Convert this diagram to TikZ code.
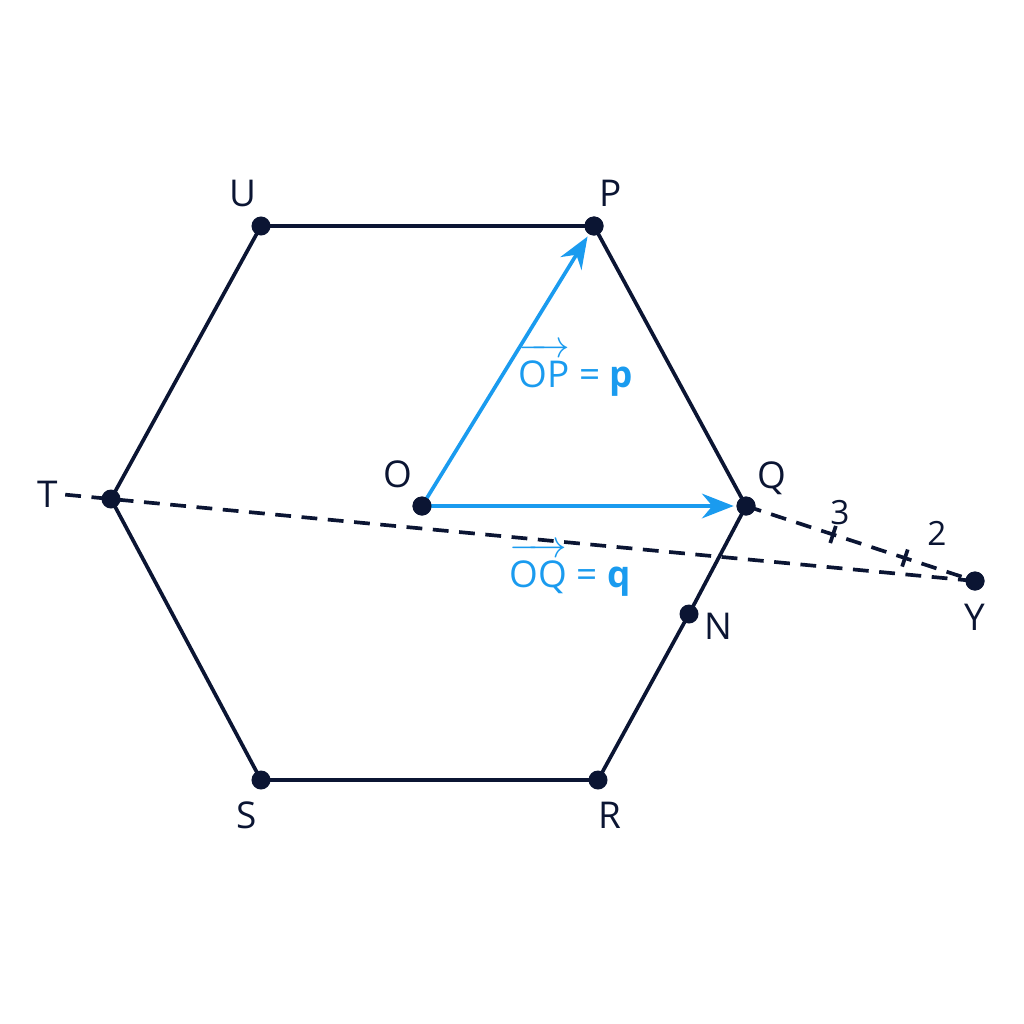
\documentclass[tikz,border=0pt]{standalone}
\usepackage{amsmath}
\usepackage{fontspec}
\setmainfont{Open Sans}
\usepackage{tikz}
\usepackage{xcolor}
\usetikzlibrary{calc, arrows.meta}

\definecolor{ink}{HTML}{0B1533}
\definecolor{vblue}{HTML}{1A9BEF}

\begin{document}
\begin{tikzpicture}[>={Stealth[length=9pt, width=7pt]}, semithick, x=0.01cm, y=-0.01cm,
		dot/.style={circle, fill=ink, inner sep=0pt, minimum size=0.19cm},
		lbl/.style={text=ink, font=\fontsize{10.5}{12}\selectfont},
		edge/.style={draw=ink, line width=1.05pt},
		dline/.style={draw=ink, line width=1.05pt, dash pattern=on 4.5pt off 3pt},
		vec/.style={draw=vblue, line width=1.05pt, ->, shorten >=0.5pt}]
		\useasboundingbox (0,0) rectangle (1024,1024);
		\node [dot] (U) at (261, 226) {};
		\node [dot] (P) at (594, 226) {};
		\node [dot] (Q) at (746, 506) {};
		\node [dot] (R) at (598, 780) {};
		\node [dot] (S) at (261, 780) {};
		\node [dot] (T) at (111, 499) {};
		\node [dot] (O) at (422, 506) {};
		\node [dot] (N) at (689, 614) {};
		\node [dot] (Y) at (975, 581) {};
		\coordinate (T0) at ($(T.center)!-0.053!(Y.center)$);
		% hexagon
		\draw [edge] (U.center) to (P.center);
		\draw [edge] (P.center) to (Q.center);
		\draw [edge] (Q.center) to (N.center);
		\draw [edge] (N.center) to (R.center);
		\draw [edge] (R.center) to (S.center);
		\draw [edge] (S.center) to (T.center);
		\draw [edge] (T.center) to (U.center);
		% dashed lines
		\draw [dline] (T0) to (Y.center);
		\draw [dline] (Q.center) to (Y.center);
		\coordinate (k1) at ($(Q.center)!0.38!(Y.center)$);
		\coordinate (k2) at ($(Q.center)!0.694!(Y.center)$);
		\draw [ink, line width=1.05pt] ($(k1)!0.09cm!90:(Y.center)$) to ($(k1)!0.09cm!-90:(Y.center)$);
		\draw [ink, line width=1.05pt] ($(k2)!0.09cm!90:(Y.center)$) to ($(k2)!0.09cm!-90:(Y.center)$);
		% vectors
		\draw [vec] (O.center) to (P);
		\draw [vec] (O.center) to (Q);
		\node [dot] at (O) {};
		\node [dot] at (P) {};
		\node [dot] at (Q) {};
		\node [dot] at (Y) {};
		% labels
		\node [lbl] (lU) at (243, 193) {U};
		\node [lbl] (lP) at (611, 193) {P};
		\node [lbl] (lQ) at (772, 478) {Q};
		\node [lbl] (lO) at (398, 474) {O};
		\node [lbl] (lT) at (48, 494) {T};
		\node [lbl] (lN) at (718, 626) {N};
		\node [lbl] (lY) at (975, 617) {Y};
		\node [lbl] (lS) at (247, 815) {S};
		\node [lbl] (lR) at (610, 815) {R};
		\node [lbl, font=\fontsize{9.5}{11}\selectfont] (l3) at (840, 513) {3};
		\node [lbl, font=\fontsize{9.5}{11}\selectfont] (l2) at (937, 533) {2};
		\node [lbl, text=vblue] (lp) at (576, 370) {$\overrightarrow{\mbox{\rule{0pt}{8.4pt}OP}}$ = \textbf{p}};
		\node [lbl, text=vblue] (lq) at (570, 570) {$\overrightarrow{\mbox{\rule{0pt}{8.4pt}OQ}}$ = \textbf{q}};
    \end{tikzpicture}
\end{document}
